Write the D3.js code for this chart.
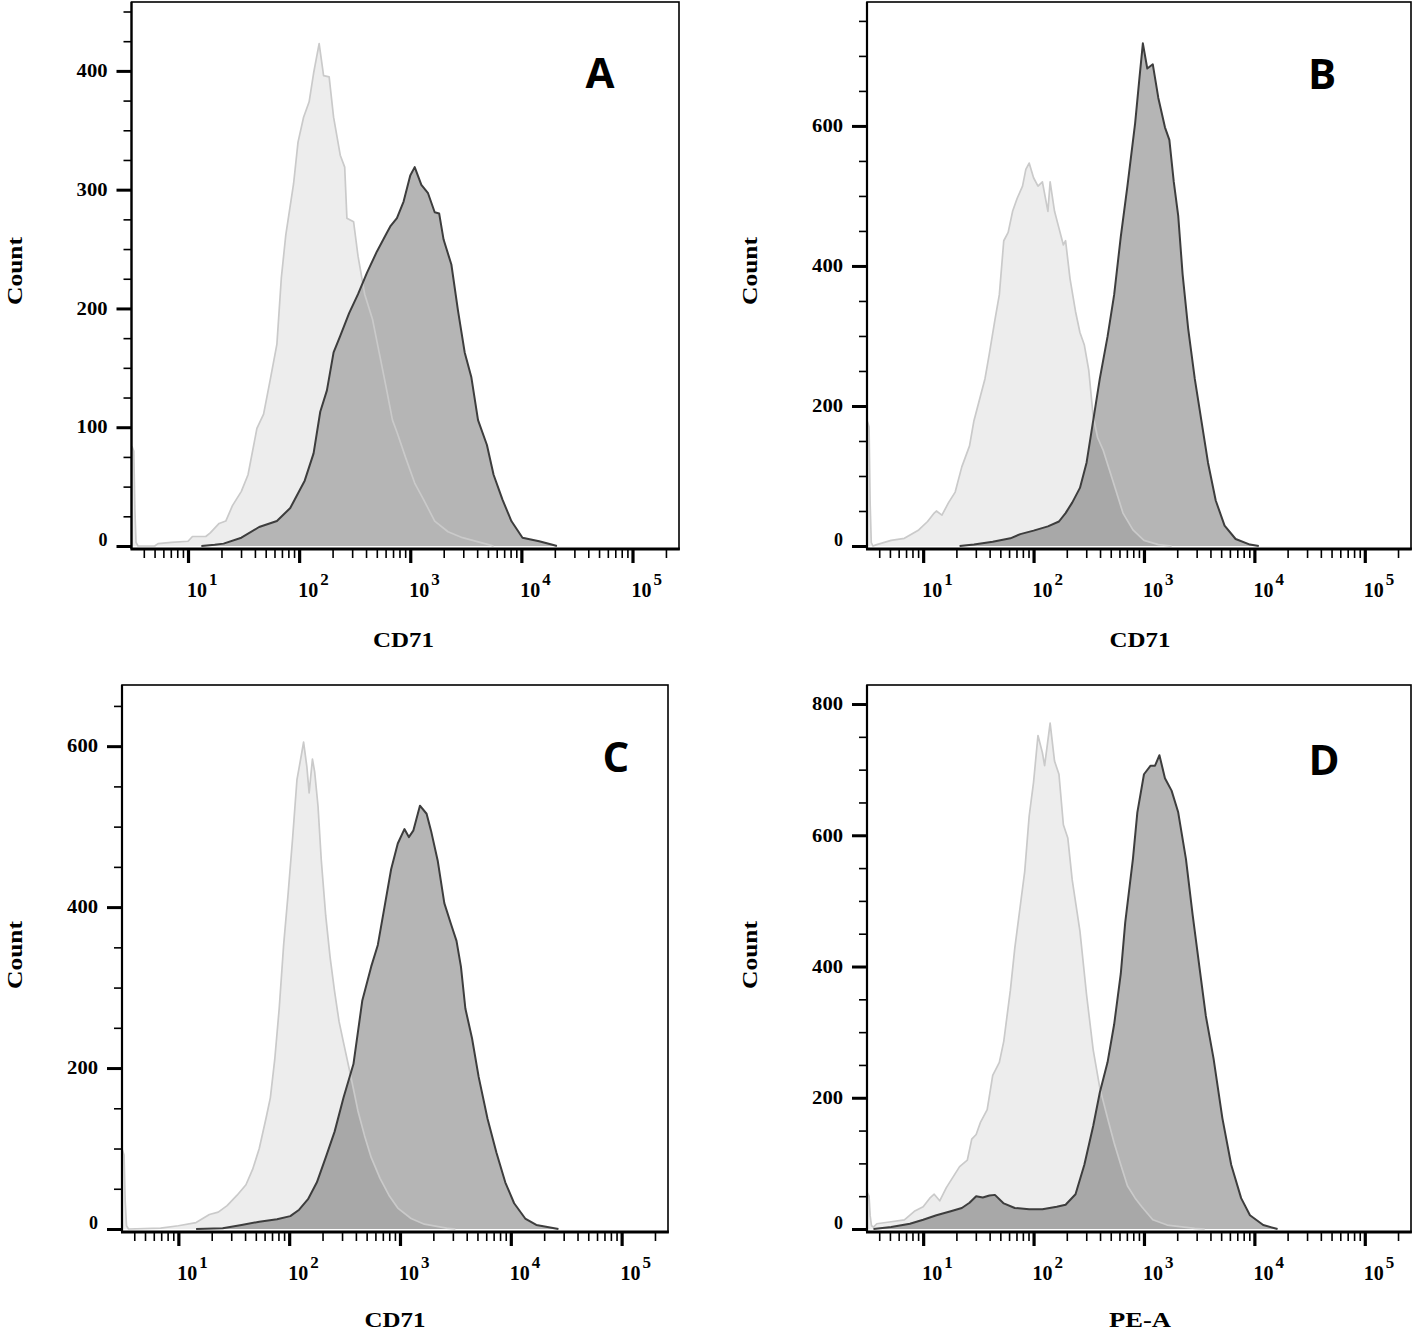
<!DOCTYPE html>
<html><head><meta charset="utf-8">
<script src="https://cdn.jsdelivr.net/npm/d3@7"></script>
<style>body{margin:0;background:#fff} svg{display:block}</style>
</head><body>
<svg id="chart" width="1418" height="1334"></svg>
<script>
// ---------------- data ----------------
// x positions are log10(fluorescence intensity); values are event counts
const xTickExponents = [1, 2, 3, 4, 5];
const xDomain = [3.1, 262144];

const yTicksA = [0, 100, 200, 300, 400];
const yTicksB = [0, 200, 400, 600];
const yTicksC = [0, 200, 400, 600];
const yTicksD = [0, 200, 400, 600, 800];

const panelLetters = ["A", "B", "C", "D"];
const xAxisTitles = ["CD71", "CD71", "CD71", "PE-A"];
const yAxisTitle = "Count";

const A_control = [[0.495,84],[0.512,80],[0.522,30],[0.532,3],[0.55,0],[0.70,0],[0.73,2],[0.85,3],[1.0,4],[1.04,8],[1.16,8],[1.2,11],[1.28,19],[1.34,21],[1.40,34],[1.48,46],[1.54,60],[1.62,99],[1.68,111],[1.74,140],[1.80,170],[1.84,226],[1.88,262],[1.95,305],[1.99,340],[2.04,361],[2.09,374],[2.13,398],[2.18,423],[2.22,396],[2.27,395],[2.31,361],[2.37,329],[2.41,319],[2.43,276],[2.49,273],[2.53,244],[2.59,212],[2.66,191],[2.72,163],[2.78,135],[2.84,106],[2.88,96],[2.96,74],[3.04,53],[3.12,39],[3.22,21],[3.34,12],[3.47,7],[3.67,2],[3.75,0]];
const A_sample = [[1.12,0],[1.24,1],[1.32,2],[1.48,7],[1.64,16],[1.80,21],[1.92,32],[2.05,55],[2.13,78],[2.19,113],[2.25,131],[2.31,163],[2.37,177],[2.45,196],[2.53,212],[2.61,230],[2.70,248],[2.78,262],[2.82,269],[2.88,276],[2.94,290],[3.00,312],[3.04,319],[3.10,304],[3.16,297],[3.22,281],[3.26,280],[3.30,258],[3.37,237],[3.43,198],[3.49,163],[3.55,142],[3.61,106],[3.69,85],[3.75,60],[3.83,39],[3.91,21],[4.01,7],[4.16,4],[4.28,1],[4.32,0]];

const B_control = [[0.495,178],[0.51,170],[0.52,60],[0.53,5],[0.545,0],[0.58,2],[0.71,8],[0.83,11],[0.96,23],[1.04,35],[1.10,47],[1.12,50],[1.17,44],[1.23,62],[1.29,77],[1.35,113],[1.42,143],[1.46,179],[1.52,215],[1.56,239],[1.60,275],[1.65,323],[1.69,359],[1.73,436],[1.77,448],[1.81,478],[1.85,496],[1.90,514],[1.93,538],[1.96,547],[2.00,526],[2.04,514],[2.08,520],[2.13,478],[2.15,520],[2.19,478],[2.23,454],[2.27,430],[2.29,436],[2.33,382],[2.38,335],[2.42,305],[2.46,287],[2.50,251],[2.54,185],[2.58,155],[2.63,137],[2.69,107],[2.75,77],[2.81,47],[2.90,23],[3.00,8],[3.13,2],[3.25,0]];
const B_sample = [[1.33,0],[1.46,2],[1.63,6],[1.79,11],[1.88,17],[2.00,22],[2.13,28],[2.23,35],[2.29,47],[2.35,62],[2.42,83],[2.48,119],[2.54,179],[2.60,239],[2.67,299],[2.73,359],[2.79,442],[2.85,514],[2.92,604],[2.96,670],[2.99,718],[3.03,682],[3.08,688],[3.13,640],[3.19,598],[3.23,580],[3.27,520],[3.31,472],[3.35,388],[3.40,311],[3.46,239],[3.52,179],[3.58,119],[3.65,65],[3.73,29],[3.83,10],[3.96,2],[4.04,0]];

const C_control = [[0.495,98],[0.51,92],[0.52,35],[0.532,4],[0.55,0],[0.84,1],[1.0,4],[1.16,8],[1.28,18],[1.36,21],[1.44,29],[1.53,42],[1.61,55],[1.67,74],[1.73,100],[1.79,137],[1.83,163],[1.87,211],[1.91,274],[1.95,353],[1.99,416],[2.03,484],[2.07,558],[2.11,589],[2.13,605],[2.16,574],[2.18,542],[2.21,584],[2.23,568],[2.26,526],[2.29,458],[2.33,389],[2.37,337],[2.41,295],[2.45,258],[2.49,232],[2.54,200],[2.58,174],[2.62,147],[2.68,116],[2.74,89],[2.82,63],[2.90,42],[2.98,26],[3.10,13],[3.22,6],[3.42,1],[3.5,0]];
const C_sample = [[1.16,0],[1.40,1],[1.57,5],[1.73,9],[1.89,12],[2.01,16],[2.09,24],[2.17,37],[2.25,58],[2.33,89],[2.41,121],[2.49,163],[2.58,205],[2.66,284],[2.74,326],[2.80,353],[2.86,400],[2.92,447],[2.98,479],[3.04,497],[3.08,487],[3.12,495],[3.18,526],[3.24,516],[3.28,495],[3.34,458],[3.40,405],[3.46,379],[3.51,358],[3.55,326],[3.59,274],[3.65,237],[3.71,189],[3.79,137],[3.87,95],[3.95,58],[4.03,32],[4.13,13],[4.23,5],[4.43,0]];

const D_control = [[0.495,55],[0.51,50],[0.52,20],[0.532,5],[0.55,3],[0.58,8],[0.71,11],[0.83,14],[0.92,27],[1.0,34],[1.06,47],[1.10,53],[1.15,43],[1.21,63],[1.27,79],[1.33,95],[1.40,105],[1.44,137],[1.48,144],[1.52,163],[1.58,182],[1.63,234],[1.69,254],[1.73,286],[1.79,364],[1.83,428],[1.88,493],[1.92,545],[1.96,629],[2.00,681],[2.04,752],[2.08,726],[2.10,706],[2.15,771],[2.19,713],[2.23,693],[2.27,616],[2.31,596],[2.35,532],[2.42,454],[2.48,357],[2.54,273],[2.60,215],[2.67,169],[2.73,131],[2.79,98],[2.85,66],[2.92,47],[2.98,34],[3.08,14],[3.21,6],[3.46,1],[3.55,0]];
const D_sample = [[0.55,0],[0.71,3],[0.88,8],[1.0,14],[1.12,21],[1.25,27],[1.35,32],[1.42,40],[1.48,50],[1.54,48],[1.60,51],[1.65,52],[1.73,39],[1.83,32],[1.96,30],[2.08,30],[2.21,34],[2.29,37],[2.38,53],[2.46,98],[2.54,157],[2.60,208],[2.67,254],[2.73,312],[2.79,389],[2.83,467],[2.90,564],[2.94,635],[3.00,693],[3.06,706],[3.10,706],[3.14,722],[3.19,687],[3.25,668],[3.31,635],[3.38,564],[3.44,480],[3.50,402],[3.56,325],[3.63,260],[3.71,169],[3.79,98],[3.88,47],[3.96,21],[4.08,6],[4.21,0]];

// ---------------- layout ----------------
const panels = [
  {control:A_control, sample:A_sample, yTicks:yTicksA, yMinor:25, yMax:458,
   f:{l:131.5,t:2,r:679,b:549}, y0:546, multiply:false,
   letter:[600,88], count:[22,271], title:[403.5,647]},
  {control:B_control, sample:B_sample, yTicks:yTicksB, yMinor:50, yMax:777,
   f:{l:867,t:2,r:1411,b:549}, y0:546, multiply:true,
   letter:[1322,89], count:[757,271], title:[1140,647]},
  {control:C_control, sample:C_sample, yTicks:yTicksC, yMinor:50, yMax:676,
   f:{l:122,t:685,r:668,b:1232}, y0:1229, multiply:true,
   letter:[616,772], count:[22,955], title:[395,1327]},
  {control:D_control, sample:D_sample, yTicks:yTicksD, yMinor:50, yMax:829,
   f:{l:867,t:685,r:1411,b:1232}, y0:1229, multiply:true,
   letter:[1324,775], count:[757,955], title:[1140,1327]}
];

const svg = d3.select("#chart");
const serif = "'Liberation Serif','Times New Roman',serif";

panels.forEach((p, i) => {
  const g = svg.append("g");
  const x = d3.scaleLog().domain(xDomain).range([p.f.l, p.f.r]);
  const y = d3.scaleLinear().domain([0, p.yMax]).range([p.y0, p.f.t]);

  const clipId = "clip" + i;
  g.append("clipPath").attr("id", clipId).append("rect")
    .attr("x", p.f.l).attr("y", p.f.t).attr("width", p.f.r - p.f.l).attr("height", p.f.b - p.f.t);

  const area = d3.area().x(d => x(Math.pow(10, d[0]))).y0(y(0)).y1(d => y(d[1]));
  const line = d3.line().x(d => x(Math.pow(10, d[0]))).y(d => y(d[1]));

  const plot = g.append("g").attr("clip-path", `url(#${clipId})`).style("isolation", "isolate");
  if (p.multiply) {
    plot.append("path").datum(p.sample).attr("d", area).attr("fill", "#b5b5b5");
    plot.append("path").datum(p.control).attr("d", area).attr("fill", "#ededed")
      .style("mix-blend-mode", "multiply");
  } else {
    plot.append("path").datum(p.control).attr("d", area).attr("fill", "#ededed");
    plot.append("path").datum(p.sample).attr("d", area).attr("fill", "#b5b5b5");
  }
  plot.append("path").datum(p.control).attr("d", line).attr("fill", "none")
    .attr("stroke", "#cacaca").attr("stroke-width", 1.7).attr("stroke-linejoin", "round");
  plot.append("path").datum(p.sample).attr("d", line).attr("fill", "none")
    .attr("stroke", "#3d3d3d").attr("stroke-width", 2).attr("stroke-linejoin", "round");

  // frame
  g.append("rect").attr("x", p.f.l).attr("y", p.f.t)
    .attr("width", p.f.r - p.f.l).attr("height", p.f.b - p.f.t)
    .attr("fill", "none").attr("stroke", "#000").attr("stroke-width", 1.6);
  g.append("line").attr("x1", p.f.l).attr("x2", p.f.l).attr("y1", p.f.t).attr("y2", p.f.b)
    .attr("stroke", "#000").attr("stroke-width", 2.2);
  g.append("line").attr("x1", p.f.l - 1).attr("x2", p.f.r + 0.8).attr("y1", p.f.b).attr("y2", p.f.b)
    .attr("stroke", "#000").attr("stroke-width", 3);

  // y axis: minor then major ticks
  const yMinorVals = d3.range(0, p.yMax + 0.01, p.yMinor).filter(v => !p.yTicks.includes(v));
  const yMinorAxis = d3.axisLeft(y).tickValues(yMinorVals).tickSize(8).tickFormat("");
  const ym = g.append("g").attr("transform", `translate(${p.f.l},0)`).call(yMinorAxis);
  ym.select(".domain").remove();
  ym.selectAll("line").attr("stroke-width", 1.6);

  const yMajorAxis = d3.axisLeft(y).tickValues(p.yTicks).tickSize(15).tickPadding(9)
    .tickFormat(d3.format("d"));
  const yM = g.append("g").attr("transform", `translate(${p.f.l},0)`).call(yMajorAxis);
  yM.select(".domain").remove();
  yM.selectAll("line").attr("stroke-width", 3);
  yM.selectAll("text").attr("font-family", serif).attr("font-weight", "bold")
    .attr("font-size", 18).attr("fill", "#000")
    .attr("dy", d => d === 0 ? "-0.05em" : "0.32em")
    .each(function(d){ const s = String(d); if (s.length > 1) d3.select(this).attr("textLength", s.length * 10.3).attr("lengthAdjust", "spacingAndGlyphs"); });

  // x axis: minor ticks
  const xMinorVals = [];
  for (let e = 0; e <= 5; e++) for (let m = 2; m <= 9; m++) {
    const v = m * Math.pow(10, e);
    if (v > xDomain[0] && v < xDomain[1]) xMinorVals.push(v);
  }
  const xMinorAxis = d3.axisBottom(x).tickValues(xMinorVals).tickSize(9).tickFormat("");
  const xm = g.append("g").attr("transform", `translate(0,${p.f.b})`).call(xMinorAxis);
  xm.select(".domain").remove();
  xm.selectAll("line").attr("stroke-width", 1.6);

  const xMajorVals = xTickExponents.map(e => Math.pow(10, e));
  const xMajorAxis = d3.axisBottom(x).tickValues(xMajorVals).tickSize(14).tickFormat("");
  const xM = g.append("g").attr("transform", `translate(0,${p.f.b})`).call(xMajorAxis);
  xM.select(".domain").remove();
  xM.selectAll("line").attr("stroke-width", 3.2);

  // x tick labels 10^n
  xTickExponents.forEach(e => {
    const t = g.append("text").attr("x", x(Math.pow(10, e)) - 1).attr("y", p.f.b + 48)
      .attr("font-family", serif).attr("font-weight", "bold").attr("font-size", 20).attr("fill", "#000");
    t.append("tspan").text("10");
    t.append("tspan").attr("dx", 2).attr("dy", -12).attr("font-size", 17).text(String(e));
  });

  // titles
  g.append("text").attr("x", p.title[0]).attr("y", p.title[1]).attr("text-anchor", "middle")
    .attr("font-family", serif).attr("font-weight", "bold").attr("font-size", 22)
    .attr("textLength", xAxisTitles[i] === "PE-A" ? 62 : 61).attr("lengthAdjust", "spacingAndGlyphs")
    .text(xAxisTitles[i]);
  g.append("text").attr("transform", `translate(${p.count[0]},${p.count[1]}) rotate(-90)`)
    .attr("text-anchor", "middle").attr("font-family", serif).attr("font-weight", "bold")
    .attr("font-size", 22).attr("textLength", 68).attr("lengthAdjust", "spacingAndGlyphs")
    .text(yAxisTitle);
  g.append("text").attr("x", p.letter[0]).attr("y", p.letter[1]).attr("text-anchor", "middle")
    .attr("font-family", "'Open Sans', sans-serif").attr("font-weight", "bold").attr("font-size", 42)
    .text(panelLetters[i]);
});
</script>
</body></html>
